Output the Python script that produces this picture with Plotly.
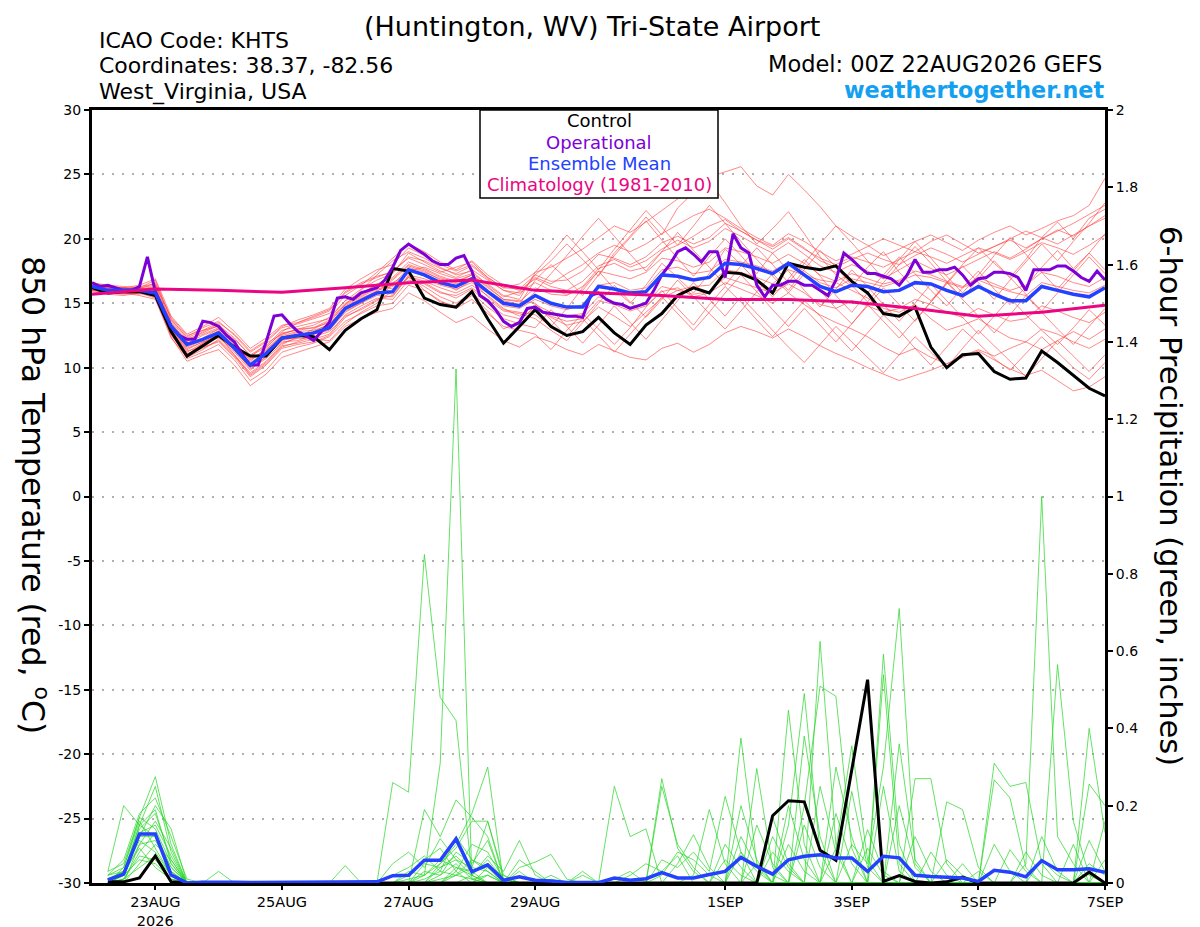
import pandas as pd
import plotly.graph_objects as go

# ---- data ----
start = "2026-08-22 00:00"
end = "2026-09-07 00:00"

tick_dates = ["2026-08-23", "2026-08-25", "2026-08-27", "2026-08-29",
              "2026-09-01", "2026-09-03", "2026-09-05", "2026-09-07"]
tick_text = ["23AUG<br>2026", "25AUG", "27AUG", "29AUG", "1SEP", "3SEP", "5SEP", "7SEP"]
temp_ticks = [-30, -25, -20, -15, -10, -5, 0, 5, 10, 15, 20, 25, 30]
prcp_ticks = [0, 0.2, 0.4, 0.6, 0.8, 1, 1.2, 1.4, 1.6, 1.8, 2]

# 850 hPa temperature, 6-hourly (C)
control_t = [16.2, 15.8, 15.9, 15.9, 15.6, 12.8, 10.9, 11.7, 12.5, 11.6,
             10.9, 10.9, 12.3, 12.5, 12.4, 11.4, 12.9, 13.8, 14.5, 17.7,
             17.5, 15.4, 14.9, 14.7, 15.9, 13.8, 11.9, 13.2, 14.5, 13.2,
             12.5, 12.8, 13.9, 12.7, 11.8, 13.3, 14.2, 15.6, 16.2, 15.8,
             17.4, 17.3, 16.8, 15.8, 18.1, 17.8, 17.6, 17.9, 16.7, 15.8,
             14.2, 14.0, 14.7, 11.6, 10.0, 11.0, 11.1, 9.7, 9.1, 9.2,
             11.3, 10.4, 9.4, 8.4, 7.8]

mean_t = [16.3, 16.0, 16.0, 16.0, 15.8, 13.2, 11.8, 12.2, 12.7, 11.5,
          10.2, 11.1, 12.3, 12.5, 12.7, 13.1, 14.6, 15.2, 15.8, 15.9,
          17.6, 17.2, 16.6, 16.3, 16.9, 15.9, 15.0, 14.8, 15.6, 15.0,
          14.7, 14.7, 16.3, 16.1, 15.8, 15.9, 17.2, 17.1, 16.8, 17.0,
          18.1, 18.0, 17.7, 17.3, 18.1, 17.2, 16.3, 15.9, 16.4, 16.3,
          15.9, 16.0, 16.6, 16.5, 16.0, 15.6, 16.3, 15.7, 15.2, 15.2,
          16.3, 16.0, 15.7, 15.5, 16.2]

# operational run, 3-hourly
oper_t = [16.6, 16.3, 16.4, 16.2, 16.0, 16.0, 16.3, 18.6, 15.9, 14.5,
          13.2, 12.5, 12.2, 12.2, 13.6, 13.5, 13.2, 12.5, 12.0, 11.0,
          10.2, 10.2, 12.0, 14.0, 14.1, 13.4, 12.8, 12.5, 12.1, 12.8,
          13.5, 15.4, 15.5, 15.3, 15.8, 16.0, 16.2, 16.8, 17.8, 19.1,
          19.6, 19.2, 18.8, 18.3, 18.0, 18.0, 18.5, 18.7, 17.5, 15.6,
          15.2, 14.5, 13.6, 13.2, 13.5, 14.6, 14.7, 14.3, 14.2, 14.1,
          14.0, 14.0, 13.9, 15.6, 15.8, 15.3, 15.0, 14.9, 14.6, 14.8,
          15.0, 16.0, 17.2, 18.0, 19.0, 19.3, 18.8, 18.2, 19.0, 19.0,
          17.0, 20.4, 19.3, 18.9, 16.4, 15.5, 16.4, 16.4, 16.7, 16.7,
          16.4, 16.4, 16.0, 15.6, 16.8, 18.9, 18.4, 17.8, 17.3, 17.3,
          17.1, 16.9, 16.4, 17.2, 18.4, 17.4, 17.4, 17.6, 17.6, 17.8,
          17.2, 16.4, 16.9, 17.0, 17.4, 17.4, 17.3, 17.0, 16.0, 17.6,
          17.6, 17.6, 17.9, 17.9, 17.5, 17.0, 16.7, 17.5, 16.8]

# climatology, daily
clim_t = [15.7, 16.1, 16.0, 15.85, 16.2, 16.6, 16.8, 16.0, 15.8, 15.6,
          15.3, 15.3, 15.1, 14.6, 14.0, 14.3, 14.85]

temp_m01 = [16.4, 16.2, 16.1, 16.3, 16.5, 13.5, 12.0, 12.8, 13.4, 12.0, 10.5, 11.5, 12.8, 13.5, 14.0, 14.5,
            15.8, 16.5, 17.0, 17.5, 18.5, 18.0, 17.4, 17.8, 18.2, 17.0, 16.2, 16.5, 17.4, 17.8, 18.5, 19.2,
            20.1, 21.0, 20.5, 21.3, 22.2, 23.1, 24.0, 24.8, 25.2, 25.6, 24.1, 23.4, 25.0, 23.8, 22.5, 21.0,
            20.2, 19.5, 18.7, 19.2, 19.8, 20.3, 19.7, 19.1, 19.9, 20.5, 21.0, 20.3, 20.8, 21.4, 21.8, 22.6, 24.7]
temp_m02 = [16.2, 16.0, 15.9, 16.1, 16.6, 13.8, 12.3, 12.9, 13.2, 11.8, 10.8, 11.9, 12.6, 13.0, 13.3, 13.9,
            15.2, 16.1, 16.8, 17.3, 18.9, 18.2, 17.5, 17.0, 17.6, 16.8, 16.0, 15.6,
            17.2, 18.3, 19.6, 18.4, 17.1, 18.9, 20.2, 21.7, 20.3, 22.4, 23.6, 24.5, 22.8, 21.0, 19.6, 20.8,
            22.1, 20.4, 18.6, 17.2, 16.3, 17.8, 19.0, 17.4, 16.1, 15.2, 16.6, 18.0, 19.3, 18.1, 17.0, 18.4,
            20.1, 21.3, 20.0, 21.6, 22.3]
temp_m03 = [16.5, 16.3, 16.2, 16.0, 16.2, 13.0, 11.5, 12.0, 12.5, 11.0, 9.6, 10.5, 11.8, 12.4, 13.0, 13.6,
            14.9, 16.0, 17.2, 18.3, 19.0, 18.5, 17.8, 17.2, 17.5, 16.4, 15.5, 15.9, 17.0, 16.5, 17.3, 18.0,
            18.9, 19.5, 19.0, 19.6, 20.4, 21.1, 21.8, 22.3, 21.6, 20.8, 20.1, 19.5, 20.4, 19.8, 19.0, 18.3,
            18.8, 19.4, 20.0, 19.5, 19.0, 19.8, 20.3, 19.6, 18.9, 19.4, 20.0, 20.6, 20.1, 19.6, 20.3, 21.0, 21.8]
temp_m04 = [16.0, 15.9, 15.8, 15.7, 15.9, 12.8, 11.0, 11.8, 12.4, 11.2, 9.8, 10.9, 12.0, 12.1, 12.6, 13.0,
            14.4, 15.0, 15.9, 16.8, 17.9, 17.5, 16.8, 16.0, 16.8, 15.5, 14.5, 14.3,
            14.1, 13.2, 14.6, 16.2, 17.5, 16.1, 15.0, 16.4, 18.1, 17.0, 15.8, 17.3, 19.2, 18.0, 16.7, 15.5,
            16.9, 18.4, 17.1, 15.6, 14.3, 15.8, 17.2, 18.6, 17.3, 16.0, 14.8, 16.2, 17.5, 16.1, 14.9, 16.3,
            17.8, 19.1, 17.7, 18.9, 20.4]
temp_m05 = [16.3, 16.1, 15.9, 16.0, 15.6, 12.9, 11.3, 11.6, 12.0, 10.8, 9.3, 10.2, 11.5, 11.8, 12.0, 12.5,
            13.9, 14.6, 15.3, 15.6, 17.0, 16.6, 15.9, 15.4, 16.1, 15.0, 14.1, 13.8, 14.6, 14.0, 13.6, 13.8,
            15.2, 14.9, 14.4, 14.8, 15.9, 16.2, 15.5, 15.8, 16.6, 16.1, 15.6, 15.0, 15.8, 14.9, 14.1, 13.5,
            13.0, 12.4, 11.6, 11.0, 11.5, 10.8, 10.3, 10.8, 11.3, 10.6, 9.9, 9.4, 9.8, 9.0, 8.2, 8.5, 9.3]
temp_m06 = [16.1, 15.8, 15.7, 15.8, 15.5, 12.6, 10.7, 11.2, 11.8, 10.6, 9.0, 9.8, 11.2, 11.6, 11.9, 12.4,
            13.6, 14.2, 14.8, 15.0, 16.4, 16.0, 15.2, 14.6, 15.3, 14.2, 13.2, 12.9,
            12.6, 11.4, 12.9, 14.2, 13.0, 11.8, 13.1, 14.7, 16.0, 14.6, 13.3, 14.9, 16.3, 15.1, 13.7, 12.4,
            13.8, 15.2, 14.0, 12.6, 11.3, 12.7, 14.1, 12.9, 11.5, 10.2, 11.6, 13.0, 11.9, 10.7, 9.8, 11.1,
            12.4, 11.2, 10.0, 9.1, 10.4]
temp_m07 = [16.4, 16.1, 16.0, 15.9, 15.7, 12.4, 10.5, 11.0, 11.4, 10.2, 8.6, 9.5, 10.8, 11.2, 11.6, 12.0,
            13.2, 13.8, 14.3, 14.6, 15.8, 15.2, 14.3, 13.5, 14.0, 13.0, 12.1, 11.6, 12.4, 12.0, 11.4, 11.0,
            11.8, 11.3, 10.8, 10.6, 11.5, 11.9, 11.2, 11.8, 12.7, 13.2, 12.8, 12.3, 13.0, 12.4, 11.7, 11.1,
            10.6, 10.0, 9.5, 9.0, 9.4, 9.8, 10.3, 10.9, 11.4, 10.9, 11.5, 12.0, 11.4, 12.1, 12.8, 12.2, 13.0]
temp_m08 = [16.6, 16.4, 16.3, 16.2, 16.8, 13.7, 12.4, 13.1, 13.6, 12.5, 11.2, 12.0, 13.1, 13.4, 13.8, 14.2,
            15.6, 16.4, 17.4, 18.5, 19.6, 19.0, 18.2, 17.6, 18.3, 17.2, 16.4, 16.0, 16.9, 16.3, 16.0, 16.7,
            17.9, 18.4, 17.8, 18.3, 19.2, 19.9, 19.3, 19.8, 20.8, 20.2, 19.5, 18.9, 19.7, 18.8, 17.9, 17.4,
            18.0, 17.5, 16.9, 17.6, 18.3, 17.7, 17.2, 17.8, 18.4, 19.0, 18.5, 19.2, 20.0, 20.6, 21.2, 21.9, 22.6]
temp_m09 = [16.2, 16.0, 16.1, 16.2, 16.0, 13.3, 11.9, 12.5, 13.0, 11.9, 10.6, 11.4, 12.5, 12.8, 12.9, 13.3,
            14.8, 15.5, 16.1, 16.4, 17.8, 17.4, 16.9, 16.5, 17.0, 16.0, 15.2, 14.9,
            16.8, 18.0, 16.9, 15.6, 17.2, 18.7, 20.1, 21.4, 19.9, 18.5, 17.1, 18.6, 20.0, 18.7, 17.3, 18.9,
            17.5, 16.0, 14.7, 16.1, 17.6, 16.3, 14.9, 13.6, 15.0, 16.5, 15.2, 13.9, 12.6, 14.0, 15.4, 14.1,
            12.9, 11.8, 13.1, 14.5, 13.3]
temp_m10 = [16.3, 16.2, 16.0, 15.9, 15.8, 13.1, 11.6, 12.1, 12.9, 11.7, 10.4, 11.2, 12.4, 12.7, 12.6, 12.9,
            14.3, 15.0, 15.6, 15.5, 17.2, 16.9, 16.4, 16.1, 16.6, 15.8, 14.8, 14.6, 15.3, 14.8, 14.5, 14.9,
            16.4, 16.6, 16.0, 16.2, 17.6, 17.8, 17.3, 17.5, 18.4, 18.2, 17.9, 17.5, 18.2, 17.5, 16.6, 16.2,
            16.9, 16.6, 16.3, 16.7, 17.2, 17.0, 16.6, 16.2, 16.8, 16.3, 15.9, 15.6, 16.6, 16.3, 16.0, 15.8, 16.4]
temp_m11 = [15.9, 15.7, 15.6, 15.8, 15.4, 12.5, 11.1, 11.5, 12.1, 10.9, 9.5, 10.4, 11.7, 11.9, 12.2, 12.6,
            14.1, 14.8, 15.4, 15.3, 16.8, 16.5, 15.8, 15.6, 16.2, 15.3, 14.4, 14.2,
            13.8, 12.9, 12.1, 13.5, 15.0, 16.4, 15.1, 13.9, 15.3, 16.8, 15.5, 14.2, 13.0, 14.4, 15.9, 17.3,
            16.0, 17.6, 19.1, 17.8, 16.4, 15.1, 16.6, 18.0, 19.4, 18.1, 16.7, 15.4, 16.9, 18.3, 17.0, 15.7,
            14.4, 15.8, 17.2, 18.6, 17.3]
temp_m12 = [16.5, 16.2, 16.2, 16.4, 16.9, 14.0, 12.6, 13.2, 13.9, 12.8, 11.5, 12.3, 13.3, 13.5, 13.9, 14.4,
            15.9, 16.6, 17.1, 17.4, 18.6, 18.3, 17.7, 17.3, 17.9, 16.9, 16.0, 15.8, 16.6, 16.0, 15.7, 16.0,
            17.5, 17.2, 16.9, 17.4, 18.5, 18.3, 17.8, 18.2, 19.3, 19.0, 18.6, 18.1, 18.8, 18.1, 17.2, 16.7,
            17.3, 16.9, 16.5, 16.8, 17.5, 17.2, 16.7, 16.3, 17.0, 16.5, 16.0, 16.4, 17.4, 17.1, 16.6, 16.3, 17.0]
temp_m13 = [16.1, 15.9, 15.8, 15.8, 15.7, 12.7, 11.0, 11.9, 12.6, 11.3, 10.0, 10.8, 12.2, 12.3, 12.2, 12.1,
            13.4, 14.3, 15.0, 16.6, 17.3, 16.0, 15.1, 14.8, 15.6, 14.4, 13.0, 13.6, 14.8, 13.9, 13.3, 13.6,
            14.7, 14.0, 13.2, 14.3, 15.4, 16.0, 16.3, 16.4, 17.6, 17.4, 17.0, 16.5, 17.6, 17.2, 16.8, 16.6,
            16.0, 15.4, 14.6, 14.3, 14.9, 13.8, 12.9, 13.3, 13.8, 13.0, 12.3, 12.0, 13.0, 12.6, 12.0, 11.5, 12.2]
temp_m14 = [16.4, 16.3, 16.2, 16.1, 16.3, 13.4, 12.1, 12.6, 13.1, 12.2, 11.0, 11.7, 12.9, 13.2, 13.5, 13.8,
            15.2, 15.8, 16.4, 16.1, 17.5, 17.8, 17.3, 16.9, 17.3, 16.5, 15.6, 15.3,
            17.4, 18.8, 20.3, 19.0, 17.6, 19.2, 20.7, 22.2, 20.9, 19.5, 21.0, 22.6, 21.2, 19.8, 18.4, 17.1,
            15.8, 17.3, 16.0, 14.6, 13.4, 14.8, 16.2, 14.9, 13.6, 15.1, 16.5, 17.9, 16.6, 15.3, 16.8, 18.2,
            19.6, 18.3, 19.8, 21.2, 22.8]
temp_m15 = [16.0, 15.8, 15.9, 16.0, 15.9, 13.0, 11.4, 12.0, 12.3, 11.4, 9.9, 10.7, 11.9, 12.3, 12.8, 13.4,
            14.7, 15.4, 15.9, 15.7, 17.1, 16.7, 16.2, 15.8, 16.4, 15.6, 14.6, 14.0, 14.9, 14.3, 14.0, 14.2,
            15.5, 15.1, 14.7, 15.0, 16.3, 16.0, 15.7, 15.9, 17.0, 16.6, 16.2, 15.8, 16.5, 15.8, 14.9, 14.6,
            15.2, 14.8, 14.3, 14.6, 15.3, 14.9, 14.3, 13.9, 14.6, 14.1, 13.6, 13.8, 14.8, 14.4, 13.9, 13.5, 14.3]
temp_m16 = [16.2, 16.1, 16.0, 16.1, 16.1, 13.6, 12.2, 12.7, 13.3, 12.3, 10.9, 11.6, 12.7, 12.9, 13.1, 13.7,
            15.0, 15.7, 16.5, 17.0, 18.2, 17.7, 17.1, 16.7, 17.2, 16.2, 15.3, 15.1, 16.2, 15.7, 15.6, 16.3,
            17.7, 18.1, 17.5, 17.8, 19.0, 19.5, 20.2, 21.0, 21.5, 20.6, 19.9, 19.2, 20.0, 19.2, 18.5, 18.0,
            18.6, 18.2, 17.8, 18.4, 19.0, 18.6, 18.1, 18.7, 19.3, 18.9, 18.4, 19.0, 19.7, 19.3, 18.8, 19.5, 20.3]
temp_m17 = [16.3, 16.0, 15.8, 15.6, 15.3, 12.3, 10.8, 11.4, 12.2, 11.0, 9.4, 10.3, 11.6, 12.0, 12.4, 12.8,
            14.0, 14.5, 15.2, 15.9, 17.0, 16.3, 15.5, 15.0, 15.8, 14.7, 13.8, 13.4,
            13.1, 14.5, 13.2, 11.9, 13.3, 14.8, 13.5, 12.2, 13.7, 15.2, 16.6, 15.3, 14.0, 15.5, 14.2, 12.9,
            11.6, 10.4, 11.8, 13.2, 12.0, 10.8, 9.6, 11.0, 12.4, 11.2, 10.0, 11.5, 12.9, 11.7, 10.5, 9.3,
            10.7, 12.1, 10.9, 9.7, 11.0]
temp_m18 = [16.6, 16.3, 16.1, 16.2, 16.4, 13.9, 12.5, 12.9, 13.5, 12.6, 11.3, 12.1, 13.2, 13.7, 14.1, 14.6,
            16.1, 16.9, 17.6, 18.0, 19.3, 18.7, 18.0, 17.5, 18.0, 17.0, 16.2, 16.1, 17.2, 16.7, 16.8, 17.5,
            18.8, 18.5, 18.0, 18.6, 19.7, 20.2, 19.6, 20.1, 21.2, 20.6, 19.9, 19.4, 20.1, 19.3, 18.3, 17.8,
            18.4, 18.9, 18.4, 18.0, 18.7, 19.3, 18.8, 18.2, 18.8, 19.4, 19.9, 19.3, 20.0, 20.7, 20.2, 21.0, 21.6]
temp_m19 = [16.0, 15.9, 15.8, 15.9, 15.8, 12.9, 11.2, 11.9, 12.6, 11.6, 10.3, 11.0, 12.1, 12.4, 12.7, 13.2,
            14.6, 15.3, 16.0, 16.3, 17.6, 17.1, 16.5, 16.2, 16.8, 15.9, 15.0, 14.7,
            15.9, 17.3, 18.7, 20.2, 21.6, 20.2, 18.8, 17.5, 19.0, 20.5, 19.1, 17.8, 16.4, 17.9, 19.3, 18.0,
            16.6, 18.1, 19.6, 21.0, 19.7, 18.3, 16.9, 18.4, 19.8, 18.5, 17.1, 15.8, 17.2, 18.7, 20.1, 18.8,
            17.4, 16.1, 17.5, 18.9, 17.6]
temp_m20 = [16.4, 16.2, 16.2, 16.1, 16.2, 13.3, 11.8, 12.3, 13.0, 11.9, 10.7, 11.3, 12.6, 13.0, 13.1, 13.5,
            14.9, 15.6, 16.2, 16.9, 18.0, 17.6, 17.0, 16.6, 17.2, 16.3, 15.3, 15.2,
            15.0, 13.7, 12.4, 13.8, 12.5, 11.2, 12.6, 14.0, 15.5, 14.2, 12.9, 14.3, 15.8, 17.2, 15.9, 14.5,
            13.2, 14.6, 13.3, 12.0, 13.4, 14.9, 13.6, 12.3, 13.7, 15.1, 16.6, 15.3, 14.0, 12.7, 14.1, 15.6,
            14.3, 13.0, 11.8, 13.2, 14.6]

# 6-hour precipitation (inches), valid 06Z 22AUG onward
control_p = [.003, .003, .013, .070, .003, 0, 0, 0, 0, 0, 0, 0, 0, 0, 0, 0,
             0, 0, 0, 0, 0, 0, 0, 0, 0, 0, 0, 0, 0, 0, 0, 0,
             0, 0, 0, 0, 0, 0, 0, 0, 0, 0, .174, .213, .21, .085, .059, .293,
             .526, .004, .019, .004, 0, .003, .015, 0, 0, 0, 0, 0, 0, 0, .028, 0]
mean_p = [.008, .023, .127, .127, .021, 0, .002, .003, .002, .001, .001, .001, .001, .001, .001, .002,
          .001, .003, .019, .020, .059, .059, .114, .029, .047, .007, .016, .007, .005, .001, .001, .001,
          .013, .007, .011, .027, .013, .013, .022, .030, .066, .043, .023, .060, .069, .073, .065, .065,
          .030, .069, .065, .020, .017, .015, .013, .004, .033, .028, .016, .058, .034, .034, .037, .028]

prcp_m01 = [.03, .20, .15, .12, .03, 0, 0, 0, 0, 0, 0, 0, 0, 0, 0, 0,
            0, 0, .26, .235, .85, .48, .42, .02, 0, 0, 0, 0, 0, 0, 0, 0,
            0, 0, 0, 0, 0, 0, 0, 0, .375, .05, 0, 0, 0, 0, 0, 0,
            0, .592, .10, 0, 0, 0, 0, 0, 0, 0, 0, .06, .02, 0, 0, 0]
prcp_m02 = [0, .04, .17, .275, .10, 0, 0, 0, 0, 0, 0, 0, 0, 0, 0, 0,
            0, 0, 0, 0, .02, .31, 1.33, .01, 0, 0, 0, 0, 0, 0, 0, 0,
            0, 0, 0, 0, 0, 0, 0, 0, 0, .296, .04, 0, 0, 0, 0, 0,
            0, .539, .05, 0, 0, 0, 0, 0, 0, 0, 0, 0, .565, .16, .02, 0]
prcp_m03 = [.01, .03, .15, .25, .08, 0, 0, 0, 0, 0, 0, 0, 0, 0, 0, 0,
            0, 0, 0, 0, 0, .05, .10, .18, .30, 0, .03, 0, .02, 0, 0, 0,
            0, 0, 0, .02, .08, .06, .02, 0, 0, 0, .17, .05, 0, 0, 0, 0,
            0, .25, .03, 0, 0, 0, 0, 0, 0, 0, 0, 0, 0, .10, 0, 0]
prcp_m04 = [.02, .06, .18, .22, .12, .01, 0, .03, 0, 0, 0, 0, 0, 0, 0, 0,
            0, 0, 0, 0, .19, .12, .215, .17, .12, 0, 0, 0, 0, 0, 0, 0,
            0, 0, 0, 0, 0, 0, 0, 0, 0, 0, .08, .03, 0, 0, 0, .10,
            .05, .30, .71, .05, 0, 0, 0, 0, 0, 0, 0, 0, 0, 0, .40, .13]
prcp_m05 = [0, .02, .12, .20, .14, 0, 0, 0, 0, 0, 0, 0, 0, 0, 0, 0,
            0, 0, .05, .08, .04, .115, .06, .04, .16, .02, 0, 0, 0, 0, 0, 0,
            .25, .12, .14, 0, 0, 0, 0, 0, 0, 0, 0, .447, .10, 0, 0, 0,
            0, 0, .36, .06, 0, 0, 0, 0, 0, 0, 0, 0, 0, 0, .256, .20]
prcp_m06 = [.01, .03, .14, .18, .06, 0, 0, 0, 0, 0, 0, 0, 0, 0, 0, 0,
            0, 0, 0, .02, .06, .09, .03, .10, .08, .01, 0, 0, 0, 0, 0, 0,
            0, 0, 0, .27, .09, .03, 0, 0, 0, 0, 0, .20, .06, 0, 0, 0,
            0, 0, .20, .04, 0, 0, 0, 0, 0, 0, 0, 0, 0, 0, .11, .03]
prcp_m07 = [0, 0, .10, .16, .09, 0, 0, 0, 0, 0, 0, 0, 0, 0, 0, 0,
            0, 0, 0, 0, .03, .02, .08, .05, .11, 0, 0, 0, 0, 0, 0, 0,
            0, 0, 0, .25, .10, .04, 0, 0, 0, 0, .12, .04, 0, 0, 0, 0,
            0, 0, 0, .27, .27, .05, 0, 0, 0, 0, 0, 0, 0, 0, 0, .16]
prcp_m08 = [.03, .05, .17, .14, .05, 0, .005, 0, 0, 0, 0, 0, 0, 0, 0, 0,
            0, 0, .02, .04, .07, .03, .12, .06, .04, 0, 0, 0, 0, 0, 0, 0,
            0, 0, 0, 0, .05, .125, .04, 0, 0, 0, 0, .10, .03, 0, 0, 0,
            0, 0, 0, .12, .03, 0, 0, 0, 0, 0, 0, 0, 0, 0, 0, .06]
prcp_m09 = [0, .01, .08, .13, .04, 0, 0, 0, 0, 0, 0, 0, 0, 0, 0, 0,
            0, 0, 0, 0, 0, .04, .06, .02, .07, .03, .11, .02, 0, 0, 0, 0,
            0, 0, 0, 0, 0, .02, .19, .05, 0, 0, 0, .15, .49, .08, 0, 0,
            0, 0, 0, 0, .08, .02, 0, 0, 0, 0, 0, 0, 0, 0, 0, 0]
prcp_m10 = [.01, .02, .12, .12, .03, 0, 0, 0, 0, 0, 0, 0, 0, 0, 0, 0,
            0, 0, 0, .01, .02, .05, .09, .16, .16, .01, 0, 0, .01, 0, .02, 0,
            .01, .03, 0, 0, 0, 0, 0, 0, 0, 0, 0, 0, .38, .12, 0, 0,
            0, 0, 0, 0, 0, .21, .19, .04, 0, 0, 0, 0, 0, 0, 0, 0]
prcp_m11 = [0, 0, .05, .10, .06, 0, 0, 0, 0, 0, 0, 0, 0, 0, 0, 0,
            0, 0, 0, 0, 0, 0, .04, .03, .05, 0, .06, .03, 0, 0, 0, 0,
            0, .02, .05, .03, .07, 0, 0, 0, 0, 0, 0, 0, .15, .04, 0, 0,
            0, 0, 0, 0, 0, .06, .02, 0, 0, 0, 0, 0, 0, 0, 0, 0]
prcp_m12 = [.02, .04, .16, .09, .02, 0, 0, 0, 0, 0, 0, 0, 0, 0, 0, .045,
            0, 0, 0, 0, .01, .03, .02, .01, .02, 0, 0, 0, 0, 0, 0, 0,
            0, 0, 0, .06, .04, .08, .03, .224, .08, 0, 0, 0, 0, .625, .10, 0,
            0, 0, 0, 0, 0, 0, .05, 0, 0, 0, 0, 0, 0, 0, 0, 0]
prcp_m13 = [0, .01, .07, .06, .01, 0, 0, 0, 0, 0, 0, 0, 0, 0, 0, 0,
            0, 0, 0, 0, 0, 0, .02, .04, .03, 0, .04, .054, .074, .01, 0, 0,
            0, 0, 0, 0, 0, 0, 0, 0, 0, 0, 0, 0, .20, .509, .483, .09,
            0, 0, 0, 0, 0, 0, 0, .03, 0, 0, 0, 0, 0, 0, 0, 0]
prcp_m14 = [.01, .03, .11, .08, .02, 0, 0, 0, 0, 0, 0, 0, 0, 0, 0, 0,
            0, 0, 0, 0, 0, .02, .05, .01, 0, 0, 0, 0, 0, 0, .03, 0,
            0, 0, 0, 0, 0, 0, 0, .10, .04, 0, 0, 0, 0, .25, .08, 0,
            0, 0, 0, 0, 0, 0, 0, 0, .31, .25, .26, .05, 0, 0, 0, 0]
prcp_m15 = [0, .02, .06, .05, .01, 0, 0, 0, 0, 0, 0, 0, 0, 0, 0, 0,
            0, 0, 0, 0, 0, 0, 0, .02, .06, .01, 0, 0, 0, 0, 0, 0,
            0, 0, 0, 0, 0, 0, 0, .06, .02, 0, 0, 0, 0, 0, .30, .12,
            0, 0, 0, 0, 0, 0, 0, 0, .267, .22, .04, 0, 0, 0, 0, 0]
prcp_m16 = [.01, .02, .13, .15, .07, 0, 0, 0, 0, 0, 0, 0, 0, 0, 0, 0,
            0, 0, 0, 0, .05, .04, .07, .03, 0, 0, 0, 0, 0, 0, 0, 0,
            0, 0, 0, 0, 0, 0, 0, 0, .20, .06, 0, 0, 0, 0, .18, .05,
            0, 0, 0, 0, 0, 0, 0, 0, .10, .03, 0, 0, 0, 0, 0, 0]
prcp_m17 = [0, .01, .04, .07, .02, 0, 0, 0, 0, 0, 0, 0, 0, 0, 0, 0,
            0, 0, 0, 0, 0, 0, .03, 0, .02, 0, 0, 0, 0, 0, 0, 0,
            0, 0, 0, 0, 0, 0, 0, 0, .08, .03, 0, 0, 0, 0, .09, .355,
            .06, 0, 0, 0, 0, 0, 0, 0, 0, .086, .03, 0, 0, 0, 0, 0]
prcp_m18 = [.02, .03, .09, .04, .01, 0, 0, 0, 0, 0, 0, 0, 0, 0, 0, 0,
            0, 0, 0, 0, 0, .01, .02, .06, .03, 0, 0, 0, 0, 0, 0, 0,
            0, 0, 0, 0, 0, 0, 0, 0, .12, .04, 0, 0, 0, 0, 0, .237,
            .04, 0, 0, 0, 0, 0, 0, 0, 0, 0, .08, .02, 0, 0, 0, 0]
prcp_m19 = [0, .02, .15, .19, .05, 0, 0, 0, 0, 0, 0, 0, 0, 0, 0, 0,
            0, 0, 0, .03, .02, .06, .04, .02, 0, 0, 0, 0, 0, 0, 0, 0,
            0, 0, 0, 0, 0, 0, 0, 0, 0, .15, .05, 0, 0, 0, 0, 0,
            .138, .03, 0, 0, 0, 0, 0, 0, 0, 0, .05, 1.0, .12, .05, 0, 0]
prcp_m20 = [.01, .02, .10, .11, .04, 0, 0, 0, 0, 0, 0, 0, 0, 0, 0, 0,
            0, 0, 0, 0, 0, 0, 0, 0, .04, .02, 0, 0, 0, 0, 0, 0,
            0, 0, 0, 0, 0, 0, 0, 0, 0, .05, .02, 0, 0, 0, 0, 0,
            .09, .02, 0, 0, 0, 0, 0, 0, 0, 0, 0, .12, .03, 0, .05, .02]

temp_members = [temp_m01, temp_m02, temp_m03, temp_m04, temp_m05, temp_m06, temp_m07,
                temp_m08, temp_m09, temp_m10, temp_m11, temp_m12, temp_m13, temp_m14,
                temp_m15, temp_m16, temp_m17, temp_m18, temp_m19, temp_m20]
prcp_members = [prcp_m01, prcp_m02, prcp_m03, prcp_m04, prcp_m05, prcp_m06, prcp_m07,
                prcp_m08, prcp_m09, prcp_m10, prcp_m11, prcp_m12, prcp_m13, prcp_m14,
                prcp_m15, prcp_m16, prcp_m17, prcp_m18, prcp_m19, prcp_m20]

# ---- times ----
t6 = pd.date_range(start, periods=len(mean_t), freq="6h")
t3 = pd.date_range(start, periods=len(oper_t), freq="3h")
t_day = pd.date_range(start, periods=len(clim_t), freq="D")
tp = t6[1:]

RED = "rgba(255,70,70,0.8)"
GREEN = "rgba(40,215,40,0.9)"
PURPLE = "rgb(125,0,215)"
BLUE = "rgb(35,65,255)"
PINK = "rgb(235,5,130)"
FONT = "DejaVu Sans, Verdana, sans-serif"

fig = go.Figure()

for m in prcp_members:
    fig.add_trace(go.Scatter(x=tp, y=m, mode="lines", yaxis="y2",
                             line=dict(color=GREEN, width=0.8)))
fig.add_trace(go.Scatter(x=tp, y=control_p, mode="lines", yaxis="y2",
                         line=dict(color="black", width=3)))
fig.add_trace(go.Scatter(x=tp, y=mean_p, mode="lines", yaxis="y2",
                         line=dict(color=BLUE, width=3.5)))

for m in temp_members:
    fig.add_trace(go.Scatter(x=t6, y=m, mode="lines",
                             line=dict(color=RED, width=0.8)))
fig.add_trace(go.Scatter(x=t6, y=control_t, mode="lines",
                         line=dict(color="black", width=3)))
fig.add_trace(go.Scatter(x=t3, y=oper_t, mode="lines",
                         line=dict(color=PURPLE, width=3)))
fig.add_trace(go.Scatter(x=t6, y=mean_t, mode="lines",
                         line=dict(color=BLUE, width=3.5)))
fig.add_trace(go.Scatter(x=t_day, y=clim_t, mode="lines",
                         line=dict(color=PINK, width=3)))


# page pixel -> paper fraction of the plot area (92..1105 x 110..883)
def px_x(px):
    return (px - 92) / 1013.0


def px_y(py):
    return (883 - py) / 773.0


annotations = [
    dict(text="(Huntington, WV) Tri-State Airport", x=px_x(592), y=px_y(26),
         font=dict(size=27)),
    dict(text="ICAO Code: KHTS", x=px_x(97), y=px_y(41), xanchor="left", font=dict(size=22)),
    dict(text="Coordinates: 38.37, -82.56", x=px_x(97), y=px_y(66), xanchor="left",
         font=dict(size=22)),
    dict(text="West_Virginia, USA", x=px_x(97), y=px_y(92), xanchor="left", font=dict(size=22)),
    dict(text="Model: 00Z 22AUG2026 GEFS", x=px_x(1104), y=px_y(64), xanchor="right",
         font=dict(size=22.5)),
    dict(text="<b>weathertogether.net</b>", x=px_x(1106), y=px_y(90), xanchor="right",
         font=dict(size=22.3, color="rgb(20,160,240)")),
    dict(text="850 hPa Temperature (red, <sup>o</sup>C)", x=px_x(35), y=px_y(495),
         textangle=90, font=dict(size=31.5)),
    dict(text="6-hour Precipitation (green, inches)", x=px_x(1171), y=px_y(496),
         textangle=90, font=dict(size=30.5)),
    dict(text="Control", x=px_x(599), y=px_y(121), font=dict(size=18, color="black")),
    dict(text="Operational", x=px_x(599), y=px_y(142), font=dict(size=18, color=PURPLE)),
    dict(text="Ensemble Mean", x=px_x(599), y=px_y(163), font=dict(size=18, color=BLUE)),
    dict(text="Climatology (1981-2010)", x=px_x(599), y=px_y(185),
         font=dict(size=18, color=PINK)),
]
for a in annotations:
    a.update(xref="paper", yref="paper", showarrow=False)
    a.setdefault("xanchor", "center")
    a["yanchor"] = "middle"

# the page body adds an 8px offset, margins are set to land the frame at 92..1105 x 110..883
fig.update_layout(
    width=1200, height=927,
    margin=dict(l=84, r=103, t=102, b=52),
    paper_bgcolor="white", plot_bgcolor="white",
    showlegend=False,
    font=dict(family=FONT, color="black"),
    annotations=annotations,
    shapes=[dict(type="rect", xref="paper", yref="paper",
                 x0=px_x(480), x1=px_x(718), y0=px_y(198), y1=1.0,
                 fillcolor="white", line=dict(color="black", width=1.5), layer="above")],
    xaxis=dict(type="date", range=[start, end], tickvals=tick_dates, ticktext=tick_text,
               ticks="outside", ticklen=4, tickwidth=1.5, tickcolor="black",
               showline=True, linewidth=3, linecolor="black", mirror=True,
               showgrid=False, zeroline=False, automargin=False,
               tickfont=dict(size=14.5)),
    yaxis=dict(range=[-30, 30], tickvals=temp_ticks, ticktext=[str(v) for v in temp_ticks],
               ticks="outside", ticklen=5,
               tickwidth=1.5, tickcolor="black", showline=True, linewidth=3,
               linecolor="black", showgrid=True, gridcolor="#b0b0b0", griddash="2px,8px",
               gridwidth=1.5, zeroline=False, automargin=False, tickfont=dict(size=14)),
    yaxis2=dict(range=[0, 2], tickvals=prcp_ticks, ticktext=[f"{v:g}" for v in prcp_ticks],
                overlaying="y", side="right",
                ticks="outside", ticklen=5, tickwidth=1.5, tickcolor="black",
                showline=True, linewidth=3, linecolor="black", showgrid=False,
                zeroline=False, automargin=False, tickfont=dict(size=14)),
)

fig.write_html("out.html")
